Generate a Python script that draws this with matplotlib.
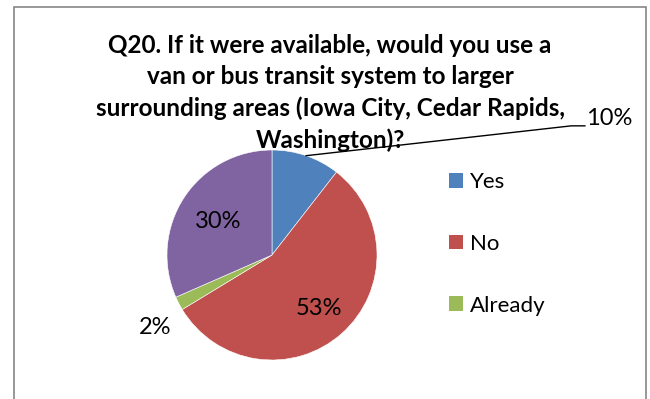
import numpy as np
import matplotlib
matplotlib.use("Agg")
import matplotlib.pyplot as plt
from matplotlib.patches import Rectangle

# Survey answers, shown as percent of all respondents
categories = ["Yes", "No", "Already", "Maybe"]
values = [10, 53, 2, 30]
colors = ["#4F81BD", "#C0504D", "#9BBB59", "#8064A2"]
legend_items = 3  # only the first three answers are listed in the legend

title = ("Q20. If it were available, would you use a\n"
         "van or bus transit system to larger\n"
         "surrounding areas (Iowa City, Cedar Rapids,\n"
         "Washington)?")

W, H = 650, 399
plt.rcParams["font.family"] = ["Lato", "DejaVu Sans"]

fig = plt.figure(figsize=(W / 100, H / 100), dpi=100)

# outer chart frame
fig.patches.append(Rectangle((14.5 / W, -0.05), (646 - 14.5) / W, 1.05 - 7 / H,
                             transform=fig.transFigure, fill=False,
                             edgecolor="#868686", linewidth=1.2))

# pie centre (272, 255) px, radius 105 px
cx, cy, r = 272, 255, 105
ax = fig.add_axes([(cx - r) / W, (H - cy - r) / H, 2 * r / W, 2 * r / H])
wedges, _ = ax.pie(values, colors=colors, startangle=90, counterclock=False,
                   radius=1, wedgeprops=dict(edgecolor="white", linewidth=0.4))
ax.set_xlim(-1, 1)
ax.set_ylim(-1, 1)
ax.set_aspect("auto")
ax.axis("off")

def mid_dir(w):
    a = np.deg2rad((w.theta1 + w.theta2) / 2)
    return np.cos(a), np.sin(a)

fs_lbl = 17
# inside labels for No and the fourth answer
for i in (1, 3):
    dx, dy = mid_dir(wedges[i])
    ax.text(0.64 * dx + 0.02, 0.64 * dy - 0.03, f"{values[i]}%", ha="center",
            va="center", fontsize=fs_lbl, color="black")

# Already label outside the pie
dx, dy = mid_dir(wedges[2])
ax.text(1.25 * dx, 1.25 * dy - 0.11, f"{values[2]}%", ha="center", va="center",
        fontsize=fs_lbl, color="black", clip_on=False)

# Yes label pulled out to the upper right with a leader line
dx, dy = mid_dir(wedges[0])
lx, ly = 2.85, 1.23
ax.plot([dx, lx, lx + 0.13], [dy, ly, ly], color="black", lw=1.0, clip_on=False)
ax.text(lx + 0.14, ly + 0.07, f"{values[0]}%", ha="left", va="center",
        fontsize=fs_lbl, color="black", clip_on=False)

fig.text(330 / W, 1 - 93 / H, title, ha="center", va="center", fontsize=17.5,
         fontweight="bold", linespacing=1.42)

leg = fig.legend(wedges[:legend_items], categories[:legend_items],
                 loc="upper left", bbox_to_anchor=(449 / W, 1 - 172 / H),
                 frameon=False, fontsize=16, handlelength=0.65, handleheight=0.65,
                 handletextpad=0.3, labelspacing=1.88, borderpad=0, borderaxespad=0)
for h in leg.legend_handles:
    h.set_edgecolor("none")

fig.savefig("out.png", dpi=100)
